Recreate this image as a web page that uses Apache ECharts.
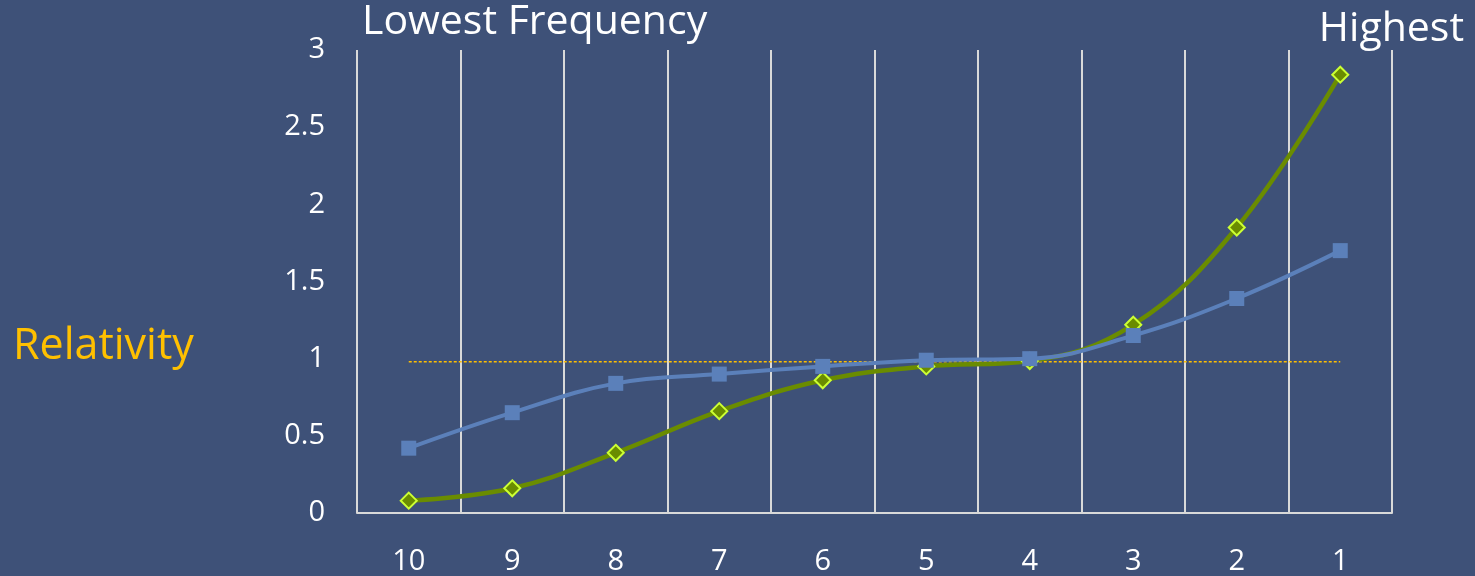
<!DOCTYPE html>
<html>
<head>
<meta charset="utf-8">
<script src="https://cdn.jsdelivr.net/npm/echarts@6/dist/echarts.min.js"></script>
<style>
html,body{margin:0;padding:0;background:#3E5178;}
#chart{width:1475px;height:576px;}
</style>
</head>
<body>
<div id="chart"></div>
<script>
const categories = ['10','9','8','7','6','5','4','3','2','1'];
const blueValues = [0.42, 0.65, 0.84, 0.90, 0.95, 0.99, 1.00, 1.15, 1.39, 1.70];
const greenValues = [0.08, 0.16, 0.39, 0.66, 0.86, 0.95, 0.985, 1.22, 1.85, 2.84];
const baselineValues = [0.98, 0.98, 0.98, 0.98, 0.98, 0.98, 0.98, 0.98, 0.98, 0.98];
const yTicks = { min: 0, max: 3, interval: 0.5 };

const FONT = '"Open Sans", "Noto Sans", sans-serif';
const chart = echarts.init(document.getElementById('chart'));
chart.setOption({
  backgroundColor: '#3E5178',
  animation: false,
  textStyle: { fontFamily: FONT },
  title: [
    { text: 'Lowest Frequency', left: 357, top: -3, textStyle: { color: '#FFFFFF', fontSize: 41, fontWeight: 'normal', fontFamily: FONT } },
    { text: 'Highest', right: 6, top: 4, textStyle: { color: '#FFFFFF', fontSize: 41, fontWeight: 'normal', fontFamily: FONT } },
    { text: 'Relativity', left: 8, top: 320, textStyle: { color: '#FFC000', fontSize: 43, fontWeight: 'normal', fontFamily: FONT } }
  ],
  grid: { left: 357, right: 83, top: 50, bottom: 63 },
  xAxis: {
    type: 'category',
    data: categories,
    boundaryGap: true,
    axisLine: { show: true, lineStyle: { color: '#D9D9D9', width: 2 } },
    axisTick: { show: false },
    axisLabel: { color: '#FFFFFF', fontSize: 29, margin: 34, fontFamily: FONT },
    splitLine: { show: true, interval: 0, lineStyle: { color: '#D9D9D9', width: 2 } }
  },
  yAxis: {
    type: 'value',
    min: yTicks.min, max: yTicks.max, interval: yTicks.interval,
    axisLine: { show: false },
    axisTick: { show: false },
    splitLine: { show: false },
    axisLabel: { color: '#FFFFFF', fontSize: 29, margin: 32, fontFamily: FONT }
  },
  series: [
    {
      name: 'Baseline', type: 'line', data: baselineValues,
      symbol: 'none', silent: true,
      lineStyle: { color: '#FFC000', width: 1.5, type: [3, 2] },
      z: 1
    },
    {
      name: 'Blue', type: 'line', data: blueValues,
      smooth: 0.4,
      symbol: 'rect', symbolSize: 15,
      itemStyle: { color: '#5B80BA' },
      lineStyle: { color: '#5B80BA', width: 4 },
      z: 3
    },
    {
      name: 'Green', type: 'line', data: greenValues,
      smooth: 0.4,
      symbol: 'diamond', symbolSize: 16,
      itemStyle: { color: '#6A8C00', borderColor: '#CCFF33', borderWidth: 2 },
      lineStyle: { color: '#6A8C00', width: 4.5 },
      z: 2
    }
  ]
});
</script>
</body>
</html>
